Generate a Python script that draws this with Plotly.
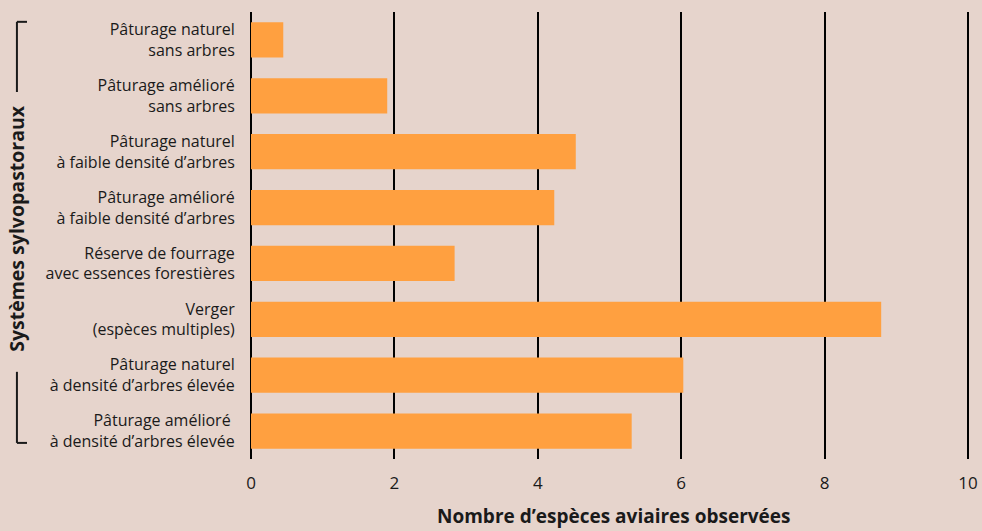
import plotly.graph_objects as go

categories = [
    "Pâturage naturel<br>sans arbres",
    "Pâturage amélioré<br>sans arbres",
    "Pâturage naturel<br>à faible densité d’arbres",
    "Pâturage amélioré<br>à faible densité d’arbres",
    "Réserve de fourrage<br>avec essences forestières",
    "Verger<br>(espèces multiples)",
    "Pâturage naturel<br>à densité d’arbres élevée",
    "Pâturage amélioré <br>à densité d’arbres élevée",
]
values = [0.45, 1.9, 4.53, 4.23, 2.84, 8.79, 6.03, 5.31]
x_ticks = [0, 2, 4, 6, 8, 10]

BG = "#e6d4cc"
BAR = "#ffa040"
FONT = "Open Sans"
TXT = "#1a1a1a"

fig = go.Figure(go.Bar(
    x=values, y=categories, orientation="h",
    marker=dict(color=BAR, line=dict(width=0)),
    width=0.63,
))

fig.update_layout(
    width=982, height=531,
    paper_bgcolor=BG, plot_bgcolor=BG,
    margin=dict(l=251, r=13, t=12, b=72, autoexpand=False),
    showlegend=False,
    font=dict(family=FONT, color=TXT),
    xaxis=dict(
        range=[0, 10.015], tickvals=x_ticks, ticktext=[str(v) for v in x_ticks],
        showgrid=True, gridcolor="black", gridwidth=1.5,
        zeroline=True, zerolinecolor="black", zerolinewidth=1.5,
        ticks="outside", ticklen=9, tickcolor="rgba(0,0,0,0)",
        tickfont=dict(size=17, family=FONT, color=TXT),
        showline=False, fixedrange=True, automargin=False,
    ),
    yaxis=dict(
        categoryorder="array", categoryarray=categories,
        autorange="reversed",
        showgrid=False, zeroline=False, showline=False,
        ticks="outside", ticklen=12, tickcolor="rgba(0,0,0,0)",
        tickfont=dict(size=16, family=FONT, color=TXT),
        automargin=False,
    ),
)

fig.add_annotation(
    text="<b>Nombre d’espèces aviaires observées</b>",
    xref="paper", yref="paper", x=0.506, y=-0.1275,
    xanchor="center", yanchor="middle", showarrow=False,
    font=dict(size=19, family=FONT, color=TXT),
)
fig.add_annotation(
    text="<b>Systèmes sylvopastoraux</b>",
    xref="paper", yref="paper", x=-0.326, y=0.517,
    xanchor="center", yanchor="middle", textangle=-90, showarrow=False,
    font=dict(size=19.5, family=FONT, color=TXT),
)

line = dict(color=TXT, width=2)
x_br = -0.326
x_tick = -0.312
fig.add_shape(type="line", xref="paper", yref="paper", x0=x_br, x1=x_br, y0=0.978, y1=0.821, line=line)
fig.add_shape(type="line", xref="paper", yref="paper", x0=x_br, x1=x_tick, y0=0.978, y1=0.978, line=line)
fig.add_shape(type="line", xref="paper", yref="paper", x0=x_br, x1=x_br, y0=0.195, y1=0.036, line=line)
fig.add_shape(type="line", xref="paper", yref="paper", x0=x_br, x1=x_tick, y0=0.036, y1=0.036, line=line)

fig.write_html("out.html")
